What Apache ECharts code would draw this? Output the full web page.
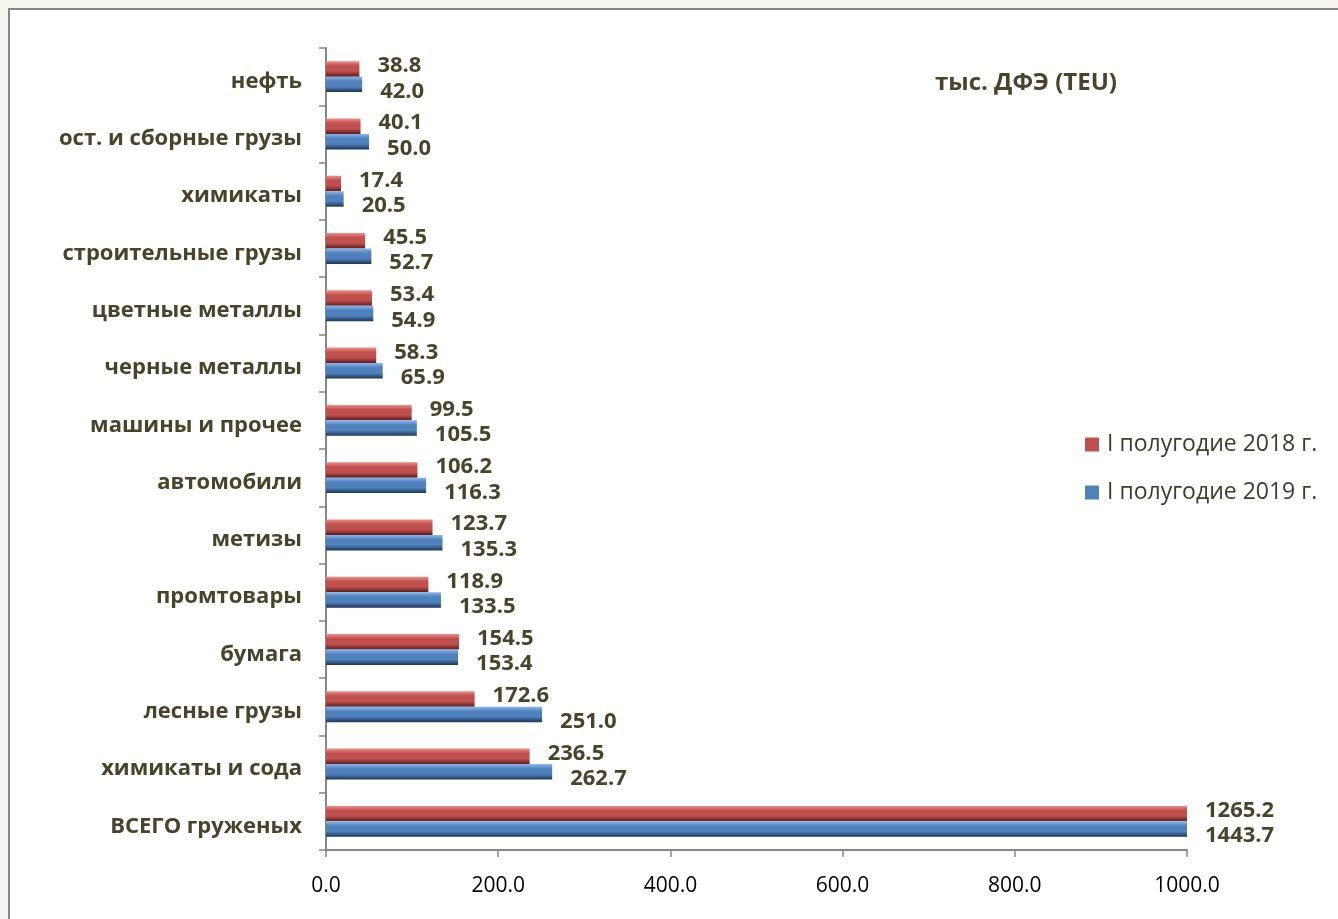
<!DOCTYPE html>
<html>
<head>
<meta charset="utf-8">
<script src="https://cdn.jsdelivr.net/npm/echarts@6/dist/echarts.min.js"></script>
<style>
html,body{margin:0;padding:0;background:#f5f4ee;}
#chart{width:1338px;height:919px;}
</style>
</head>
<body>
<div id="chart"></div>
<script>
const categories = ['нефть','ост. и сборные грузы','химикаты','строительные грузы','цветные металлы','черные металлы','машины и прочее','автомобили','метизы','промтовары','бумага','лесные грузы','химикаты и сода','ВСЕГО груженых'];
const values2018 = [38.8,40.1,17.4,45.5,53.4,58.3,99.5,106.2,123.7,118.9,154.5,172.6,236.5,1265.2];
const values2019 = [42.0,50.0,20.5,52.7,54.9,65.9,105.5,116.3,135.3,133.5,153.4,251.0,262.7,1443.7];
const seriesNames = ['I полугодие 2018 г.','I полугодие 2019 г.'];
const xTicks = {min:0, max:1000, interval:200};
const unitTitle = 'тыс. ДФЭ (TEU)';

const FONT = 'Open Sans';
const OLIVE = '#494429';
const chart = echarts.init(document.getElementById('chart'));
function grad(top, mid, bot){
  return new echarts.graphic.LinearGradient(0,0,0,1,[
    {offset:0,color:top},{offset:0.3,color:mid},{offset:0.65,color:mid},{offset:1,color:bot}
  ]);
}
const labelBase = {show:true, position:'right', distance:18, color:OLIVE, fontFamily:FONT, fontWeight:'bold', fontSize:22,
  formatter: p => p.value.toFixed(1)};
chart.setOption({
  backgroundColor:'#f5f4ee',
  animation:false,
  graphic:[{type:'rect', z:-10, shape:{x:9,y:9,width:1400,height:1000}, style:{fill:'#ffffff', stroke:'#878787', lineWidth:2}}],
  title:{text:unitTitle, left:930, top:66, textStyle:{fontFamily:FONT, fontWeight:'bold', fontSize:24, color:OLIVE}},
  legend:{orient:'vertical', left:1080, top:428, itemWidth:14, itemHeight:14, itemGap:25, icon:'rect',
    textStyle:{fontFamily:FONT, fontSize:23, color:'#3f3d2c', padding:[0,0,0,3]},
    data:[{name:seriesNames[0], itemStyle:{color:'#c0504d'}},{name:seriesNames[1], itemStyle:{color:'#4f81bd'}}]},
  grid:{left:326, top:48, right:151, bottom:69, containLabel:false},
  xAxis:{type:'value', min:xTicks.min, max:xTicks.max, interval:xTicks.interval,
    axisLine:{show:true, lineStyle:{color:'#868686', width:2}},
    axisTick:{show:true, length:7, lineStyle:{color:'#868686', width:1.5}},
    splitLine:{show:false},
    axisLabel:{margin:26, fontFamily:FONT, fontSize:21, color:'#000', formatter:v=>v.toFixed(1)}},
  yAxis:{type:'category', inverse:true, data:categories,
    axisLine:{show:true, lineStyle:{color:'#868686', width:2}},
    axisTick:{show:true, length:7, lineStyle:{color:'#868686', width:1.5}},
    axisLabel:{margin:24, formatter: v => '{c|' + v + '}',
      rich:{c:{fontFamily:FONT, fontWeight:'bold', fontSize:22, color:OLIVE, padding:[10,0,0,0]}}}},
  series:[
    {name:seriesNames[0], type:'bar', data:values2018, barGap:'0%', barCategoryGap:'46%',
     itemStyle:{color:grad('#f28b88','#c0504d','#5e1c1b')},
     label:Object.assign({}, labelBase, {offset:[0,-3]})},
    {name:seriesNames[1], type:'bar', data:values2019, barGap:'0%', barCategoryGap:'46%',
     itemStyle:{color:grad('#8ab8f0','#4f81bd','#1d3557')},
     label:Object.assign({}, labelBase, {offset:[0,7]})}
  ]
});
</script>
</body>
</html>
